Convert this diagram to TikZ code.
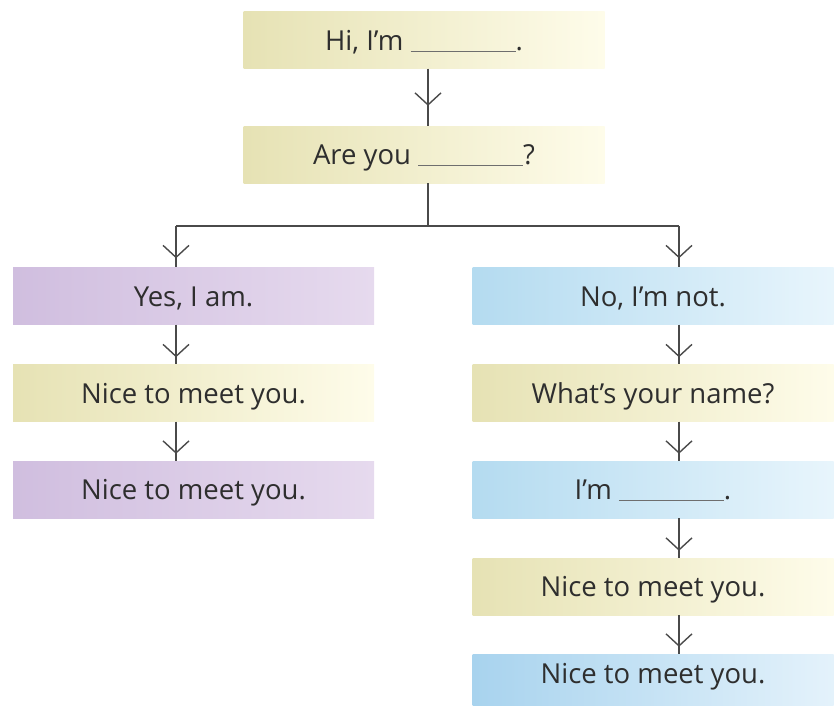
\documentclass[tikz,border=0pt]{standalone}
\usepackage{fontspec}
\setmainfont{Open Sans}
\usetikzlibrary{arrows.meta,calc}
\definecolor{txt}{HTML}{2E2E2E}
\definecolor{ln}{HTML}{4A4A4A}
\definecolor{yelL}{HTML}{E6E2B4}
\definecolor{yelR}{HTML}{FEFCEA}
\definecolor{purL}{HTML}{D0BEDF}
\definecolor{purR}{HTML}{E6DAEE}
\definecolor{bluL}{HTML}{B4DBF0}
\definecolor{bluR}{HTML}{E8F5FC}
\definecolor{blu2L}{HTML}{A8D3EE}
\definecolor{blu2R}{HTML}{E4F2FB}
\newcommand\blank{\textcolor{ln!80}{\rule[-1.5pt]{105pt}{1pt}}}
\begin{document}
\begin{tikzpicture}[x=1pt,y=-1pt,
  box/.style={inner sep=0pt,minimum width=361pt,minimum height=57pt,
    text height=20pt,text depth=0pt,
    text=txt,font=\fontsize{27.5}{30}\selectfont},
  yel/.style={box,left color=yelL,right color=yelR},
  pur/.style={box,left color=purL,right color=purR},
  blu/.style={box,left color=bluL,right color=bluR},
  blu2/.style={box,left color=blu2L,right color=blu2R},
  link/.style={draw=ln,line width=1.4pt},
  tip/.style={link,-{Straight Barb[length=12pt,width=26pt,line width=1.4pt]}}]
\useasboundingbox (0,0) rectangle (837,705);
\node[yel] (hi)   at (424,40)   {Hi, I’m \blank.};
\node[yel] (are)  at (424,154.5){Are you \blank?};
\node[pur] (yes)  at (193.5,296){Yes, I am.};
\node[yel] (nl1)  at (193.5,393){Nice to meet you.};
\node[pur] (nl2)  at (193.5,489.5){Nice to meet you.};
\node[blu] (no)   at (653,296)  {No, I’m not.};
\node[yel] (what) at (653,393)  {What’s your name?};
\node[blu] (im)   at (653,489.5){I’m \blank.};
\node[yel] (nr3)  at (653,586.5){Nice to meet you.};
\node[blu2,minimum height=51pt,text height=20pt,text depth=13pt] (nr4) at (653,679.5){Nice to meet you.};
\coordinate (cT) at (428,0);
\coordinate (cL) at (176,0);
\coordinate (cR) at (679,0);
\coordinate (br) at (428,226);
% top
\draw[tip] (hi.south -| cT) -- ($(are.north -| cT)+(0,-20)$);
\draw[link] ($(are.north -| cT)+(0,-21)$) -- (are.north -| cT);
% branch
\draw[link] (are.south -| cT) -- (br);
\draw[tip] (br -| cL) -- ($(yes.north -| cL)+(0,-9)$);
\draw[link] (br -| cL) -- (br -| cR);
\draw[tip] (br -| cR) -- ($(no.north -| cR)+(0,-9)$);
\draw[link] ($(yes.north -| cL)+(0,-10)$) -- (yes.north -| cL);
\draw[link] ($(no.north -| cR)+(0,-10)$) -- (no.north -| cR);
% left column
\foreach \a/\b in {yes/nl1,nl1/nl2}{
  \draw[tip] (\a.south -| cL) -- ($(\b.north -| cL)+(0,-7)$);
  \draw[link] ($(\b.north -| cL)+(0,-8)$) -- (\b.north -| cL);
}
% right column
\foreach \a/\b in {no/what,what/im,im/nr3,nr3/nr4}{
  \draw[tip] (\a.south -| cR) -- ($(\b.north -| cR)+(0,-7)$);
  \draw[link] ($(\b.north -| cR)+(0,-8)$) -- (\b.north -| cR);
}
\end{tikzpicture}
\end{document}
